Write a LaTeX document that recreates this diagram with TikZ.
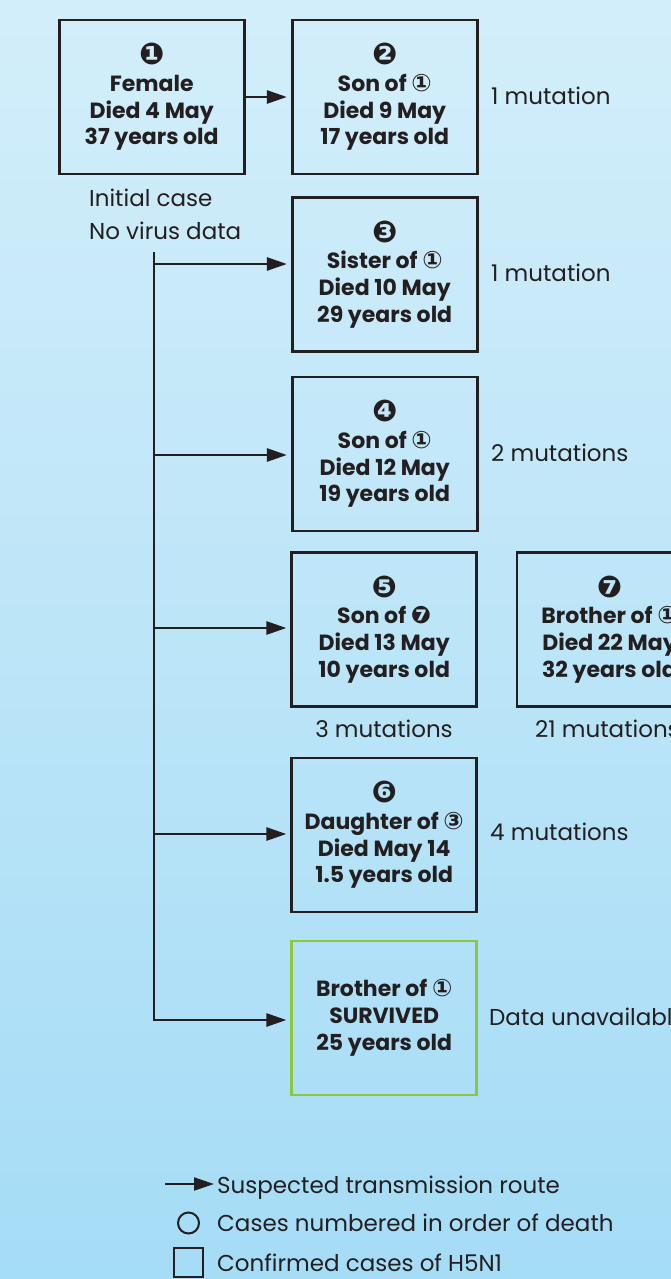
\documentclass[tikz,border=0pt]{standalone}
\usepackage{fontspec}
\setmainfont{Poppins}
\newfontfamily\dvfont{DejaVu Sans}
\usetikzlibrary{arrows.meta}
\definecolor{ink}{HTML}{231F20}
\definecolor{bgtop}{HTML}{D3EEFA}
\definecolor{bgbot}{HTML}{A5DCF6}
\definecolor{grn}{HTML}{8DC63F}
\newcommand{\numc}[1]{{\dvfont\fontsize{30}{30}\selectfont #1}}
\newcommand{\refc}[1]{{\dvfont\fontsize{24}{24}\selectfont #1}}
\begin{document}
\begin{tikzpicture}[x=1pt,y=-1pt,
  box/.style={draw=ink, line width=2.6pt, minimum width=185pt, minimum height=154pt,
    inner sep=0pt, align=center, text=ink, font=\bfseries\fontsize{22}{26.7}\selectfont},
  lab/.style={text=ink, inner sep=0pt, anchor=base west, font=\fontsize{23}{32.6}\selectfont},
  arr/.style={draw=ink, line width=2.6pt, shorten >=4pt, -{Triangle[length=20pt,width=13pt]}},
  trunk/.style={draw=ink, line width=2.6pt}]
\useasboundingbox (0,0) rectangle (671,1279);
\shade[top color=bgtop, bottom color=bgbot] (0,0) rectangle (671,1279);
\clip (0,0) rectangle (671,1279);

% boxes
\node[box] (b1) at (151.7,97) {\numc{❶}\\Female\\Died 4 May\\37 years old};
\node[box] (b2) at (384.7,97) {\numc{❷}\\Son of \refc{①}\\Died 9 May\\17 years old};
\node[box] (b3) at (384.7,274.5) {\numc{❸}\\Sister of \refc{①}\\Died 10 May\\29 years old};
\node[box] (b4) at (384.7,454) {\numc{❹}\\Son of \refc{①}\\Died 12 May\\19 years old};
\node[box] (b5) at (384.2,629.3) {\numc{❺}\\Son of \refc{❼}\\Died 13 May\\10 years old};
\node[box] (b7) at (609.5,629.3) {\numc{❼}\\Brother of \refc{①}\\Died 22 May\\32 years old};
\node[box] (b6) at (384.2,835) {\numc{❻}\\Daughter of \refc{③}\\Died May 14\\1.5 years old};
\node[box, draw=grn] (b8) at (384.2,1017.8) {Brother of \refc{①}\\SURVIVED\\25 years old};

% labels
\node[lab] (l0a) at (89,206.7) {Initial case};
\node[lab] (l0b) at (89,239.3) {No virus data};
\node[lab] (l2) at (491,105) {1 mutation};
\node[lab] (l3) at (491,281) {1 mutation};
\node[lab] (l4) at (491,461) {2 mutations};
\node[lab, anchor=base] (l5) at (384,737.5) {3 mutations};
\node[lab] (l7) at (535,737.5) {21 mutations};
\node[lab] (l6) at (490,840) {4 mutations};
\node[lab] (l8) at (489,1025) {Data unavailable};

% connectors
\draw[arr] (b1.east) -- (b2.west);
\coordinate (ttop) at (154,252.3);
\coordinate (t3) at (154,264);
\coordinate (t4) at (154,455);
\coordinate (t5) at (154,628);
\coordinate (t6) at (154,834);
\coordinate (t8) at (154,1020);
\draw[trunk] (ttop) -- ([yshift=-1.3pt]t8);
\draw[arr] (t3) -- (t3 -| b3.west);
\draw[arr] (t4) -- (t4 -| b4.west);
\draw[arr] (t5) -- (t5 -| b5.west);
\draw[arr] (t6) -- (t6 -| b6.west);
\draw[arr] (t8) -- (t8 -| b8.west);

% legend
\coordinate (la) at (165,1184);
\node[lab] (lg1) at (217,1193) {Suspected transmission route};
\draw[arr, line width=2pt, shorten >=3pt] (la) -- (lg1.west |- la);
\node[draw=ink, line width=2pt, circle, minimum size=21pt, inner sep=0pt] (lc) at (188.5,1223) {};
\node[lab] (lg2) at (217,1231.7) {Cases numbered in order of death};
\node[draw=ink, line width=2pt, minimum size=29pt, inner sep=0pt] (ls) at (188.5,1262) {};
\node[lab] (lg3) at (217,1271.7) {Confirmed cases of H5N1};
\end{tikzpicture}
\end{document}
